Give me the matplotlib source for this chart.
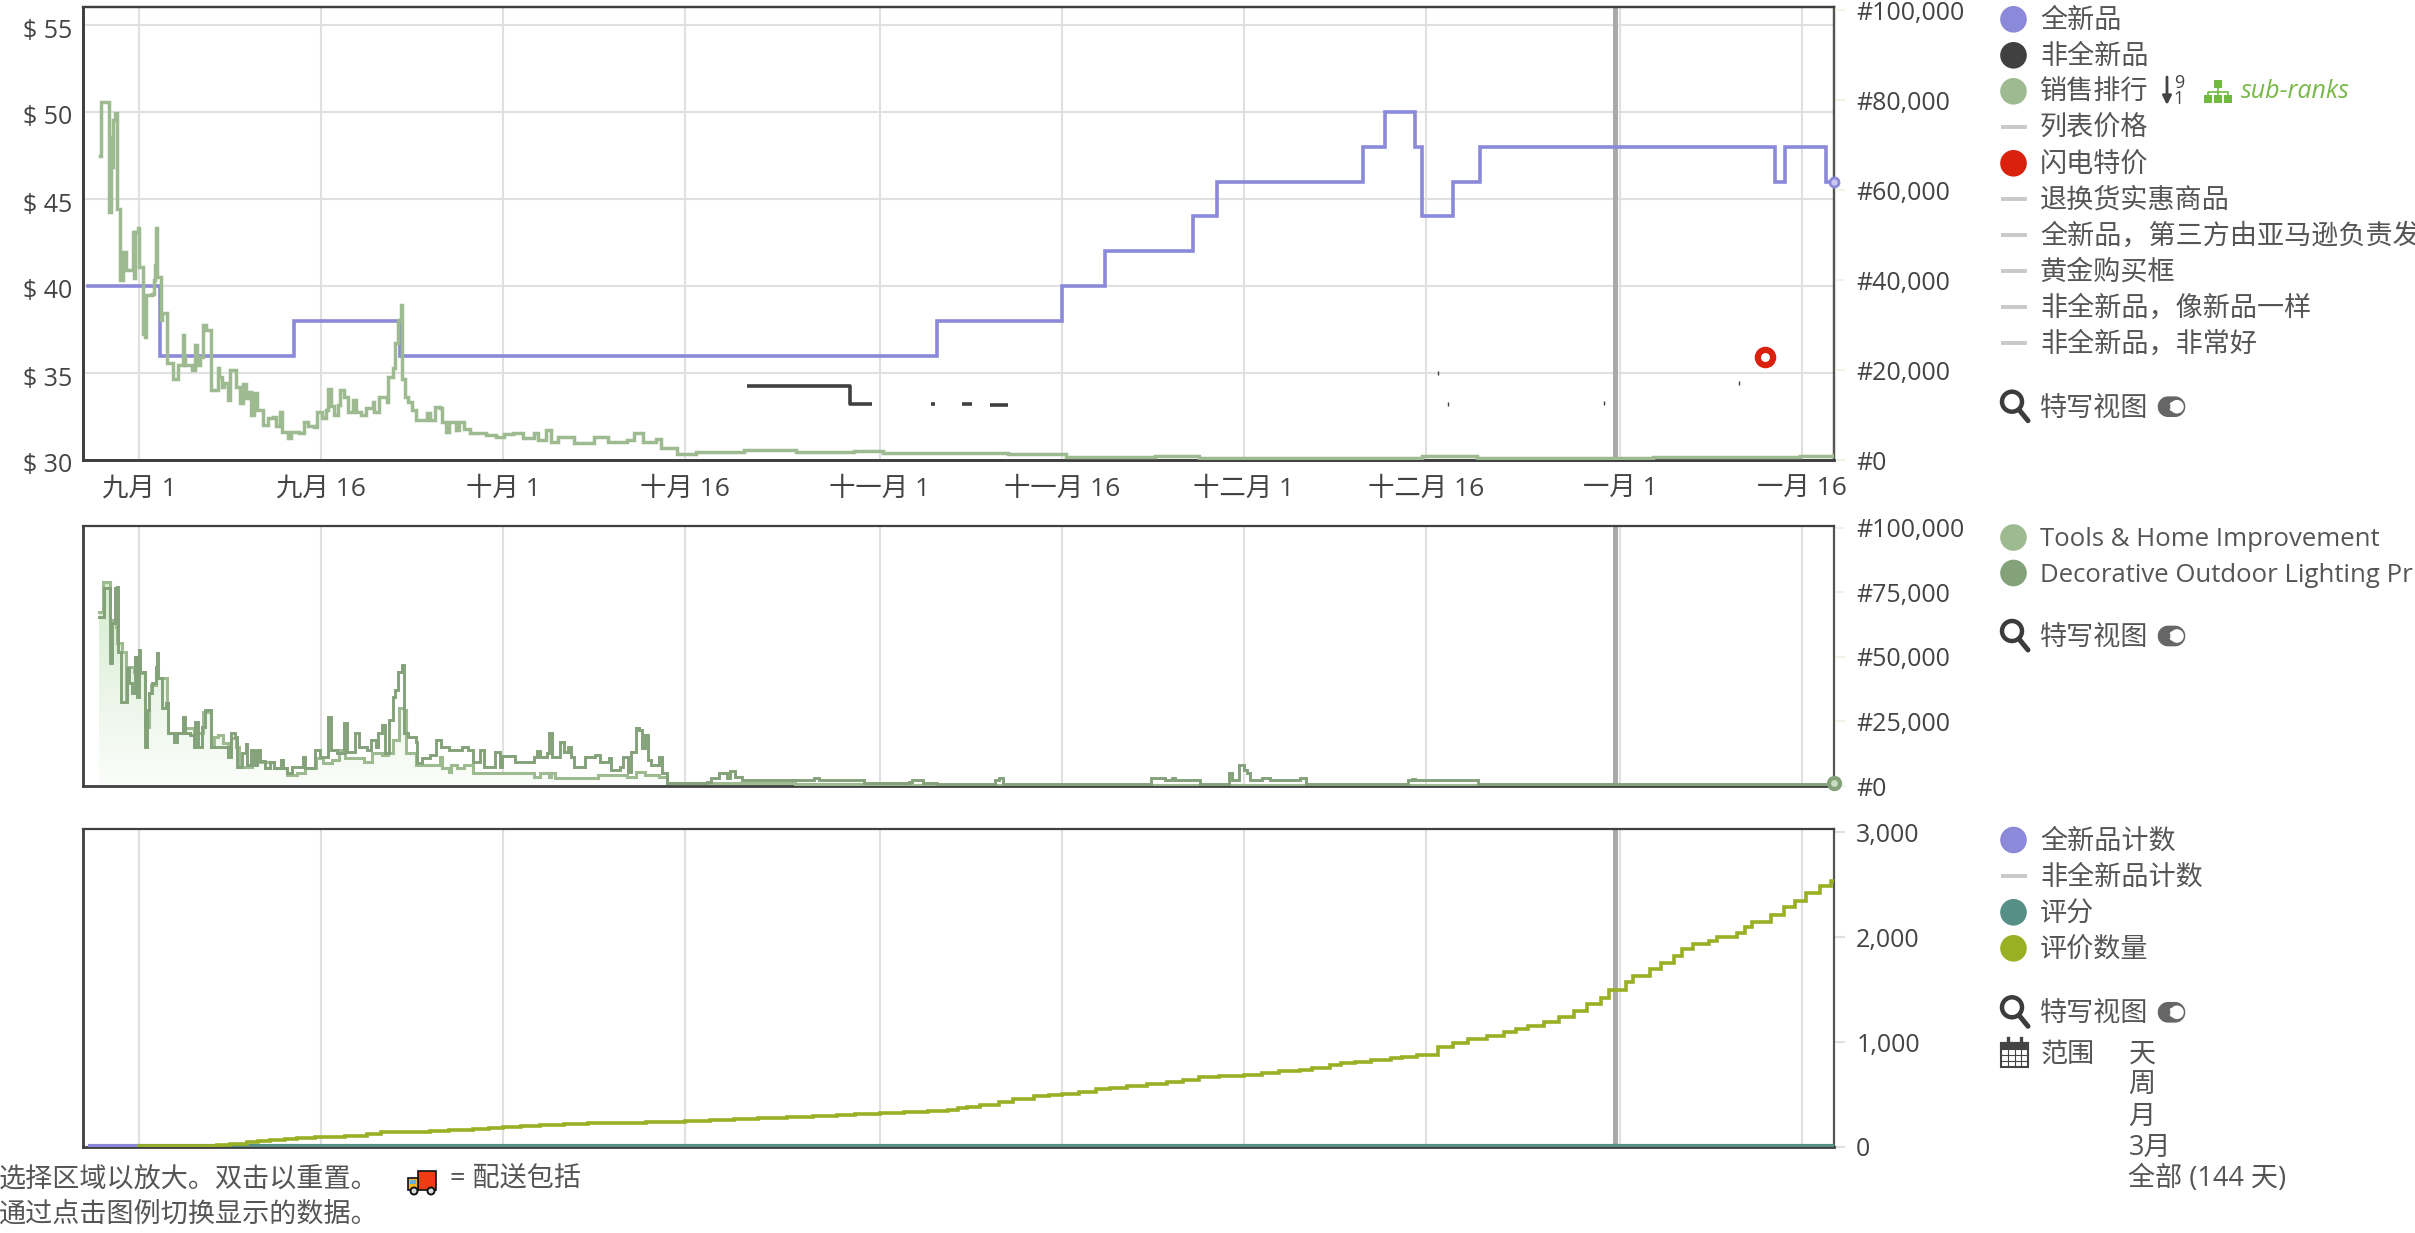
import numpy as np
import matplotlib
matplotlib.use("Agg")
import matplotlib.pyplot as plt
from matplotlib.patches import Circle, Rectangle, FancyBboxPatch
from matplotlib.colors import LinearSegmentedColormap
from matplotlib.transforms import ScaledTranslation

plt.rcParams['font.family'] = ['Open Sans', 'Noto Sans CJK SC', 'DejaVu Sans']

W, H = 2415, 1233

# ---- data (x = days since 1 September) ----
date_ticks = [0, 15, 30, 45, 61, 76, 91, 106, 122, 137]
date_labels = ['九月 1', '九月 16', '十月 1', '十月 16', '十一月 1', '十一月 16',
               '十二月 1', '十二月 16', '一月 1', '一月 16']
marker_day = 121.6

new_days = [-4.2, 1.7, 12.8, 21.5, 65.7, 76.0, 79.6, 86.8, 88.8, 100.8, 102.6, 105.1,
            105.7, 108.2, 110.5, 134.8, 135.6, 139.0, 139.6]
new_price = [40, 36, 38, 36, 38, 40, 42, 44, 46, 48, 50, 48, 44, 46, 48, 46, 48, 46, 46]

used_segments = [([50.1, 58.6, 60.4], [34.25, 33.2, 33.2]),
                 ([65.2, 65.6], [33.2, 33.2]),
                 ([67.8, 68.6], [33.2, 33.2]),
                 ([70.1, 71.6], [33.15, 33.15])]
used_ticks_day = [107.0, 107.8, 120.7, 131.8]
used_ticks_price = [35.0, 33.2, 33.3, 34.4]

flash_day = [133.9]
flash_price = [35.9]

rank_days = [-3.2, -3.1, -2.5, -2.3, -2.2, -2.1, -2.0, -1.8, -1.6, -1.3, -1.1, -0.5, -0.4, -0.3, -0.1,
             0.0, 0.3, 0.5, 0.6, 1.1, 1.2, 1.3, 1.4, 1.5, 1.8, 1.9, 2.3, 2.8, 3.2, 3.6, 3.7, 3.8, 4.4,
             4.6, 4.8, 5.0, 5.3, 5.5, 5.9, 6.5, 6.6, 6.8, 7.0, 7.3, 7.5, 8.0, 8.3, 8.6, 8.8, 9.0, 9.2,
             9.5, 9.7, 10.2, 10.6, 11.0, 11.3, 11.6, 11.8, 12.3, 12.5, 13.2, 13.6, 13.9, 14.4, 14.7,
             15.1, 15.4, 15.6, 15.8, 16.1, 16.4, 16.6, 16.9, 17.2, 17.6, 17.9, 18.3, 18.7, 19.3, 19.4,
             19.8, 20.4, 20.5, 20.9, 21.1, 21.3, 21.6, 21.7, 21.9, 22.2, 22.5, 22.8, 23.5, 23.7, 24.0,
             24.4, 24.8, 25.0, 25.3, 25.5, 26.1, 26.4, 26.8, 27.3, 28.6, 29.4, 30.1, 30.8, 31.6, 32.5,
             32.9, 33.5, 33.9, 34.5, 35.8, 37.5, 38.6, 40.2, 40.8, 41.5, 42.6, 43.0, 44.3, 45.9, 49.8,
             54.1, 58.9, 61.3, 71.6, 76.4, 83.7, 87.3, 103.6, 105.7, 110.2, 124.7, 136.8, 139.6]
rank_vals = [67600, 79600, 55200, 71800, 65200, 75500, 77200, 55700, 40100, 46300, 42200, 50700, 40400,
             50700, 51500, 43000, 28100, 27300, 36700, 37000, 40000, 43300, 51500, 40700, 31100, 32600,
             21500, 18100, 21100, 27800, 23000, 21100, 19900, 25600, 21100, 23000, 30000, 29000, 15600,
             20400, 18500, 16300, 17200, 13300, 19900, 16300, 12600, 17000, 13700, 15200, 10000, 14800,
             11100, 7800, 9300, 9600, 7600, 10700, 6300, 5000, 6300, 5900, 8500, 7600, 7400, 10700, 9300,
             11100, 15700, 11900, 10000, 12200, 15600, 14100, 10700, 13300, 10700, 10000, 11500, 13000,
             10700, 14100, 13000, 18500, 20400, 25900, 31100, 34400, 18100, 14100, 13000, 11100, 8900,
             9000, 10400, 8900, 11700, 11500, 8500, 6300, 8500, 6700, 8500, 7000, 5900, 5600, 5200, 5800,
             5900, 4800, 5900, 4400, 6700, 4100, 5200, 3700, 5200, 3900, 4400, 6100, 4100, 4600, 2600, 1300,
             1800, 2220, 1850, 2070, 1480, 1260, 740, 960, 520, 520, 890, 370, 590, 810, 1110]

cat_days = [-3.3, -2.9, -2.4, -2.2, -2.0, -1.8, -1.7, -1.5, -1.0, -0.8, -0.6, -0.3, -0.2, 0.0, 0.1, 0.5,
            0.7, 0.8, 1.1, 1.4, 1.5, 1.6, 1.9, 2.2, 2.4, 2.9, 3.1, 3.6, 3.8, 4.2, 4.5, 4.6, 4.9, 5.2, 5.4,
            5.9, 7.3, 7.6, 7.9, 8.1, 8.5, 8.8, 8.9, 9.2, 9.5, 9.7, 10.0, 10.4, 10.8, 11.1, 11.7, 11.9, 12.2,
            12.6, 13.5, 13.7, 14.5, 14.9, 15.6, 15.8, 16.3, 16.9, 17.1, 17.8, 18.1, 18.8, 19.1, 19.5, 19.7,
            20.0, 20.3, 20.6, 20.9, 21.1, 21.3, 21.7, 21.8, 22.2, 22.8, 22.9, 23.3, 24.0, 24.5, 24.9, 25.5,
            26.6, 27.1, 27.5, 28.1, 28.4, 29.3, 29.7, 29.9, 31.0, 32.5, 32.8, 33.0, 33.6, 33.8, 34.0, 34.7,
            35.0, 35.3, 35.6, 35.8, 36.7, 37.6, 38.0, 38.7, 38.9, 39.6, 39.9, 40.3, 40.5, 40.9, 41.2, 41.4,
            41.7, 41.9, 42.2, 42.8, 43.1, 43.5, 46.5, 46.8, 47.1, 47.8, 48.4, 48.7, 49.1, 49.7, 55.6, 56.0,
            59.7, 63.4, 63.7, 64.6, 65.7, 70.5, 70.8, 71.2, 83.4, 84.5, 85.1, 85.3, 87.4, 89.8, 90.0, 90.6,
            91.0, 91.3, 91.5, 92.5, 93.2, 95.6, 96.1, 104.5, 104.9, 105.1, 110.3, 139.6]
cat_vals = [65600, 76600, 47500, 63000, 76600, 77300, 52100, 32700, 45600, 39800, 35900, 50100, 34600,
            52700, 44300, 15200, 29500, 35900, 39800, 46300, 51400, 41700, 30100, 32000, 20400, 17200,
            20400, 26900, 20400, 19800, 15200, 24900, 15200, 23000, 29500, 15200, 11100, 20400, 19100, 7500,
            12700, 16300, 8100, 14000, 8100, 14000, 9800, 6800, 9400, 6800, 10100, 6800, 4900, 7500, 11100,
            6800, 14000, 11400, 26900, 14000, 12700, 24300, 13300, 20400, 15200, 14000, 17800, 15200, 20400,
            23600, 12700, 25600, 34600, 37200, 44300, 46900, 20400, 19100, 17200, 8800, 10700, 12000, 17800,
            15200, 14000, 15200, 14000, 9400, 14000, 7500, 13300, 7500, 11600, 9400, 11100, 13700, 11400,
            12700, 20400, 11400, 17200, 13300, 15200, 11400, 7500, 11100, 12000, 9400, 10700, 6200, 7500,
            11400, 5600, 13300, 22400, 21700, 14600, 19800, 10100, 8100, 11100, 4900, 1000, 1000, 1680, 2970,
            5170, 2970, 5940, 3360, 2326, 3230, 2326, 1030, 1680, 2326, 1290, 646, 2326, 3230, 646, 2970,
            2326, 2970, 2326, 646, 4900, 2326, 8140, 6200, 4900, 2326, 2970, 2326, 2970, 646, 2330, 2900,
            2300, 646, 500]

top_days = [-3.3, -3.0, -2.4, -1.9, -1.8, -1.4, -1.1, -1.0, -0.4, -0.3, 0.0, 0.5, 0.8, 1.0, 1.4, 1.6, 2.3,
            2.4, 3.8, 4.5, 5.3, 5.9, 6.2, 6.5, 6.9, 7.3, 7.6, 8.0, 8.2, 9.3, 10.0, 11.1, 12.2, 13.0, 13.7,
            14.6, 15.2, 15.9, 16.5, 17.0, 18.1, 18.5, 19.2, 20.0, 20.5, 20.9, 21.4, 21.8, 22.0, 22.8, 24.8,
            25.0, 25.5, 25.7, 26.2, 26.8, 27.5, 32.5, 33.0, 33.8, 33.9, 34.3, 37.8, 40.2, 40.9, 41.7, 42.8,
            43.5, 46.5, 47.5, 54.0, 60.0, 139.6]
top_vals = [67600, 79200, 64300, 61800, 55600, 52100, 33300, 46300, 44300, 50100, 43700, 23000, 35900, 39100,
            45000, 41700, 32000, 20400, 22400, 20400, 28800, 15200, 19100, 19800, 16500, 14000, 18500, 15200,
            7500, 10100, 9400, 6800, 4300, 4900, 6800, 10700, 8800, 10100, 14000, 10700, 10700, 9400, 12700,
            12000, 12700, 17800, 30100, 29500, 12700, 8100, 11400, 6800, 5600, 8100, 6800, 8100, 4900, 3600,
            4900, 3600, 5200, 3000, 4300, 3600, 5600, 4300, 3600, 1000, 1000, 1300, 800, 400, 400]

review_days = [0, 3, 6.4, 7.5, 8.9, 9.8, 10.8, 12, 13, 14.5, 15.7, 17, 18.8, 19.9, 21, 22.6, 24, 25.5, 27.5,
               28.8, 30, 31.5, 33, 35, 37, 39, 41.8, 45, 47, 49, 51, 53.4, 55.5, 57.5, 59, 61, 63, 65, 66.6,
               67.5, 68.2, 69.3, 70.8, 72, 73.7, 75, 76, 77.4, 78.8, 80, 81.4, 83, 84.7, 86, 87.3, 89, 91,
               92.5, 93.9, 95.6, 96.6, 98.1, 99, 100.2, 101.5, 103.1, 104, 105.3, 107, 108.2, 109.5, 111,
               112.4, 113.4, 114.4, 115.7, 117, 118.2, 119.3, 120.4, 121.1, 122.5, 123.1, 124.5, 125.4,
               126.4, 127.1, 128, 129.3, 130, 131.6, 132.3, 132.9, 134.4, 135.5, 136.4, 137.3, 138.5, 139.4,
               139.6]
review_vals = [13, 14, 16, 30, 51, 58, 66, 78, 89, 93, 98, 106, 121, 143, 144, 146, 152, 159, 168, 181, 194,
               200, 207, 219, 224, 233, 236, 250, 257, 265, 272, 289, 296, 303, 312, 321, 331, 340, 350, 368,
               385, 397, 432, 457, 489, 495, 502, 525, 550, 565, 581, 600, 619, 640, 664, 675, 689, 705, 724,
               733, 749, 780, 797, 806, 825, 850, 860, 876, 955, 990, 1028, 1060, 1092, 1120, 1152, 1195, 1241,
               1295, 1358, 1422, 1495, 1574, 1632, 1692, 1749, 1819, 1882, 1930, 1962, 1997, 2035, 2098, 2146,
               2210, 2283, 2346, 2416, 2489, 2537, 2537]
count_days = [-4.2, 0.0]
count_vals = [10, 10]
rating_days = [0.0, 139.6]
rating_vals = [10, 10]

price_ticks = [30, 35, 40, 45, 50, 55]
rank_ticks = [0, 20000, 40000, 60000, 80000, 100000]
cat_ticks = [0, 25000, 50000, 75000, 100000]
review_ticks = [0, 1000, 2000, 3000]

legend_1 = ['全新品', '非全新品', '销售排行', '列表价格', '闪电特价', '退换货实惠商品',
            '全新品，第三方由亚马逊负责发', '黄金购买框', '非全新品，像新品一样', '非全新品，非常好']
legend_2 = ['Tools & Home Improvement', 'Decorative Outdoor Lighting Pr']
legend_3 = ['全新品计数', '非全新品计数', '评分', '评价数量']
range_items = ['天', '周', '月', '3月', '全部 (144 天)']

BLUE = '#8b89d9'
DARK = '#404040'
RANK = '#9dba90'
CAT = '#83a27a'
RED = '#da210e'
TEAL = '#558f85'
OLIVE = '#99b024'
GREY = '#c9c9c9'
GRID = '#e0e0e0'
TEXT = '#555555'
TICK = '#444444'

XLIM = (-4.61, 139.62)
fig = plt.figure(figsize=(W / 100, H / 100), dpi=100, facecolor='white')


def style(ax):
    for s in ax.spines.values():
        s.set_color(DARK)
        s.set_linewidth(1.6)
    ax.spines['left'].set_linewidth(2.0)
    ax.spines['bottom'].set_linewidth(2.0)
    ax.spines['right'].set_color('#555555')


def panel(t, b):
    l, r = 83, 1834
    ax = fig.add_axes([l / W, 1 - b / H, (r - l) / W, (b - t) / H])
    ax.set_xlim(*XLIM)
    ax.set_axisbelow(True)
    ax.grid(axis='x', color=GRID, lw=1.5)
    ax.axvline(marker_day, color='#a9a9a9', lw=3.6, zorder=1.2)
    ax.set_xticks(date_ticks)
    ax.set_xticklabels([])
    ax.tick_params(axis='x', length=0)
    style(ax)
    return ax


def right_ticks(ax, ticks, labels, col):
    ax.yaxis.tick_right()
    ax.set_yticks(ticks)
    ax.set_yticklabels(labels)
    ax.tick_params(axis='y', length=8, width=1.5, color=col, pad=8, labelsize=18, labelcolor=TICK)


# panel 1
ax1 = panel(7, 460)
ax1.set_ylim(30, 30 + 453 / 17.4)
ax1.set_yticks(price_ticks)
ax1.set_yticklabels([f'$ {p}' for p in price_ticks])
ax1.tick_params(axis='y', length=0, pad=8, labelsize=18, labelcolor=TICK)
for t in ax1.get_yticklabels():
    t.set_transform(t.get_transform() + ScaledTranslation(0, -3 / 100, fig.dpi_scale_trans))
ax1.grid(axis='y', color=GRID, lw=1.5)
ax1.set_xticklabels(date_labels)
ax1.tick_params(axis='x', pad=12, labelsize=19, labelcolor=TICK)
ax1.plot(new_days, new_price, drawstyle='steps-post', color=BLUE, lw=2.6, solid_joinstyle='miter', zorder=3)
for d, p in used_segments:
    ax1.plot(d, p, drawstyle='steps-post', color=DARK, lw=2.6, solid_capstyle='butt', zorder=3)
ax1.plot(used_ticks_day, used_ticks_price, ls='none', marker='|', ms=3, mew=1, color=DARK, zorder=3)
ax1.plot(flash_day, flash_price, ls='none', marker='o', ms=11, mfc='white', mec=RED, mew=4.5, zorder=4)

ax1r = ax1.twinx()
ax1r.set_ylim(0, 100667)
style(ax1r)
right_ticks(ax1r, rank_ticks, [f'#{v:,}' for v in rank_ticks], '#eef5e6')
ax1r.plot(rank_days, rank_vals, drawstyle='steps-post', color=RANK, lw=2.5, solid_joinstyle='miter', zorder=3)
ax1r.plot(new_days[-1:], [(new_price[-1] - 30) / (453 / 17.4) * 100667], ls='none', marker='o', ms=6.5,
          mfc='#c9c8ef', mec=BLUE, mew=2, zorder=5, clip_on=False)

# panel 2
ax2 = panel(526, 786)
ax2.set_ylim(0, 100775)
right_ticks(ax2, cat_ticks, [f'#{v:,}' for v in cat_ticks], '#eef5e6')
fill = ax2.fill_between(top_days, top_vals, 0, step='post', color='none', lw=0)
cmap = LinearSegmentedColormap.from_list('g', ['#fbfdfa', '#e9f5e6', '#d3ebcd'])
im = ax2.imshow(np.linspace(1, 0, 256).reshape(-1, 1), cmap=cmap, vmin=0, vmax=1, aspect='auto',
                extent=[XLIM[0], XLIM[1], 0, 80000], zorder=1.5)
im.set_clip_path(fill.get_paths()[0], transform=ax2.transData)
ax2.set_xlim(*XLIM)
ax2.set_ylim(0, 100775)
ax2.plot(top_days, top_vals, drawstyle='steps-post', color=RANK, lw=2.2, solid_joinstyle='miter', zorder=3)
ax2.plot(cat_days, cat_vals, drawstyle='steps-post', color=CAT, lw=2.1, solid_joinstyle='miter', zorder=3.2)
ax2.plot(top_days[-1:], [1300], ls='none', marker='o', ms=8, mfc='#c9dcc2', mec=CAT, mew=3, zorder=5,
         clip_on=False)

# panel 3
ax3 = panel(829, 1147)
ax3.set_ylim(0, 3029)
right_ticks(ax3, review_ticks, [f'{v:,}' for v in review_ticks], GRID)
ax3.plot(count_days, count_vals, color=BLUE, lw=3.0, solid_capstyle='butt', zorder=3)
ax3.plot(rating_days, rating_vals, color=TEAL, lw=3.0, solid_capstyle='butt', zorder=3.1)
ax3.plot(review_days, review_vals, drawstyle='steps-post', color=OLIVE, lw=2.6, solid_joinstyle='miter', zorder=3.2)

# overlay in pixel coordinates for legends and icons
ov = fig.add_axes([0, 0, 1, 1], zorder=20)
ov.set_xlim(0, W)
ov.set_ylim(H, 0)
ov.axis('off')
ov.patch.set_alpha(0)

TX, SX = 2040, 2013.5


def label(x, y, s, size=19.5, color=TEXT, **kw):
    ov.text(x, y + 3, s, fontsize=size, color=color, va='center', ha='left', clip_on=True, **kw)


def dot(y, c):
    ov.add_patch(Circle((SX, y), 13.3, fc=c, ec='none'))


def dash(y):
    ov.plot([SX - 13, SX + 13], [y, y], color=GREY, lw=2.8, solid_capstyle='butt')


def closeup(y):
    ov.add_patch(Circle((2012, y - 5), 10, fc='none', ec='#3c3c3c', lw=3.2))
    ov.plot([2019, 2028], [y + 3, y + 14], color='#3c3c3c', lw=3.6, solid_capstyle='round')
    label(TX, y - 1, '特写视图')
    ov.add_patch(FancyBboxPatch((2166, y - 2), 11, 4, boxstyle='round,pad=0,rounding_size=2', fc='#666666',
                                ec='#666666', lw=12, joinstyle='round'))
    ov.add_patch(Circle((2177, y), 6.8, fc='white', ec='none'))


ys1 = [19.3, 55.3, 91.3, 126.7, 163.3, 198.7, 234.7, 270.7, 306.7, 342.7]
cols1 = [BLUE, DARK, RANK, None, RED, None, None, None, None, None]
for y, s, c in zip(ys1, legend_1, cols1):
    dot(y, c) if c else dash(y)
    label(TX, y - 1, s)

# sort icon and sub-ranks
ov.annotate('', xy=(2167, 105), xytext=(2167, 77),
            arrowprops=dict(arrowstyle='-|>', color='#444444', lw=2.0, mutation_scale=13, shrinkA=0, shrinkB=0))
ov.text(2179, 83, '9', fontsize=13, color='#444444', ha='center', va='center')
ov.text(2179, 99, '1', fontsize=13, color='#444444', ha='center', va='center')
G = '#72b93f'
ov.add_patch(Rectangle((2214, 80), 8, 8, fc=G, ec='none'))
ov.plot([2218, 2218], [88, 96], color=G, lw=1.2)
ov.plot([2208, 2208, 2228, 2228], [96, 92, 92, 96], color=G, lw=1.2)
for cx in (2208, 2218, 2228):
    ov.add_patch(Rectangle((cx - 4, 95), 8, 8, fc=G, ec='none'))
label(2241, 89, 'sub-ranks', size=18, color='#79b84a', style='italic')
closeup(406.7)

for y, s, c in zip([537.5, 573], legend_2, [RANK, CAT]):
    dot(y, c)
    label(TX, y - 1, s, size=18.5)
closeup(636)

ys3 = [840, 875.7, 912.3, 948.3]
cols3 = [BLUE, None, TEAL, OLIVE]
for y, s, c in zip(ys3, legend_3, cols3):
    dot(y, c) if c else dash(y)
    label(TX, y - 1, s)
closeup(1012.3)

# calendar icon and range options
ov.add_patch(Rectangle((2001, 1043), 27, 24, fc='white', ec='#444444', lw=1.5))
ov.add_patch(Rectangle((2001, 1043), 27, 6, fc='#444444', ec='#444444', lw=1.5))
for gx in (2008, 2014.5, 2021):
    ov.plot([gx, gx], [1049, 1067], color='#444444', lw=0.8)
for gy in (1055, 1061):
    ov.plot([2001, 2028], [gy, gy], color='#444444', lw=0.8)
for gx in (2008, 2021):
    ov.plot([gx, gx], [1038, 1046], color='#444444', lw=2.4)
label(TX, 1052, '范围')
for y, s in zip([1052, 1083, 1114, 1145, 1176], range_items):
    label(2128.5, y, s)

# footer
label(-1, 1177, '选择区域以放大。双击以重置。')
label(-1, 1212, '通过点击图例切换显示的数据。')
label(450, 1177, '= 配送包括')
ov.add_patch(Rectangle((418, 1171), 18, 19, fc='#f23a14', ec='#111111', lw=1.2))
ov.add_patch(Rectangle((408, 1178), 10, 12, fc='#f5b81f', ec='#111111', lw=1.2))
ov.add_patch(Rectangle((410, 1180), 6, 4, fc='#59b7dd', ec='none'))
for cx in (414, 431):
    ov.add_patch(Circle((cx, 1191), 3.5, fc='#dddddd', ec='#111111', lw=1.4))

fig.savefig('out.png', dpi=100, facecolor='white')
